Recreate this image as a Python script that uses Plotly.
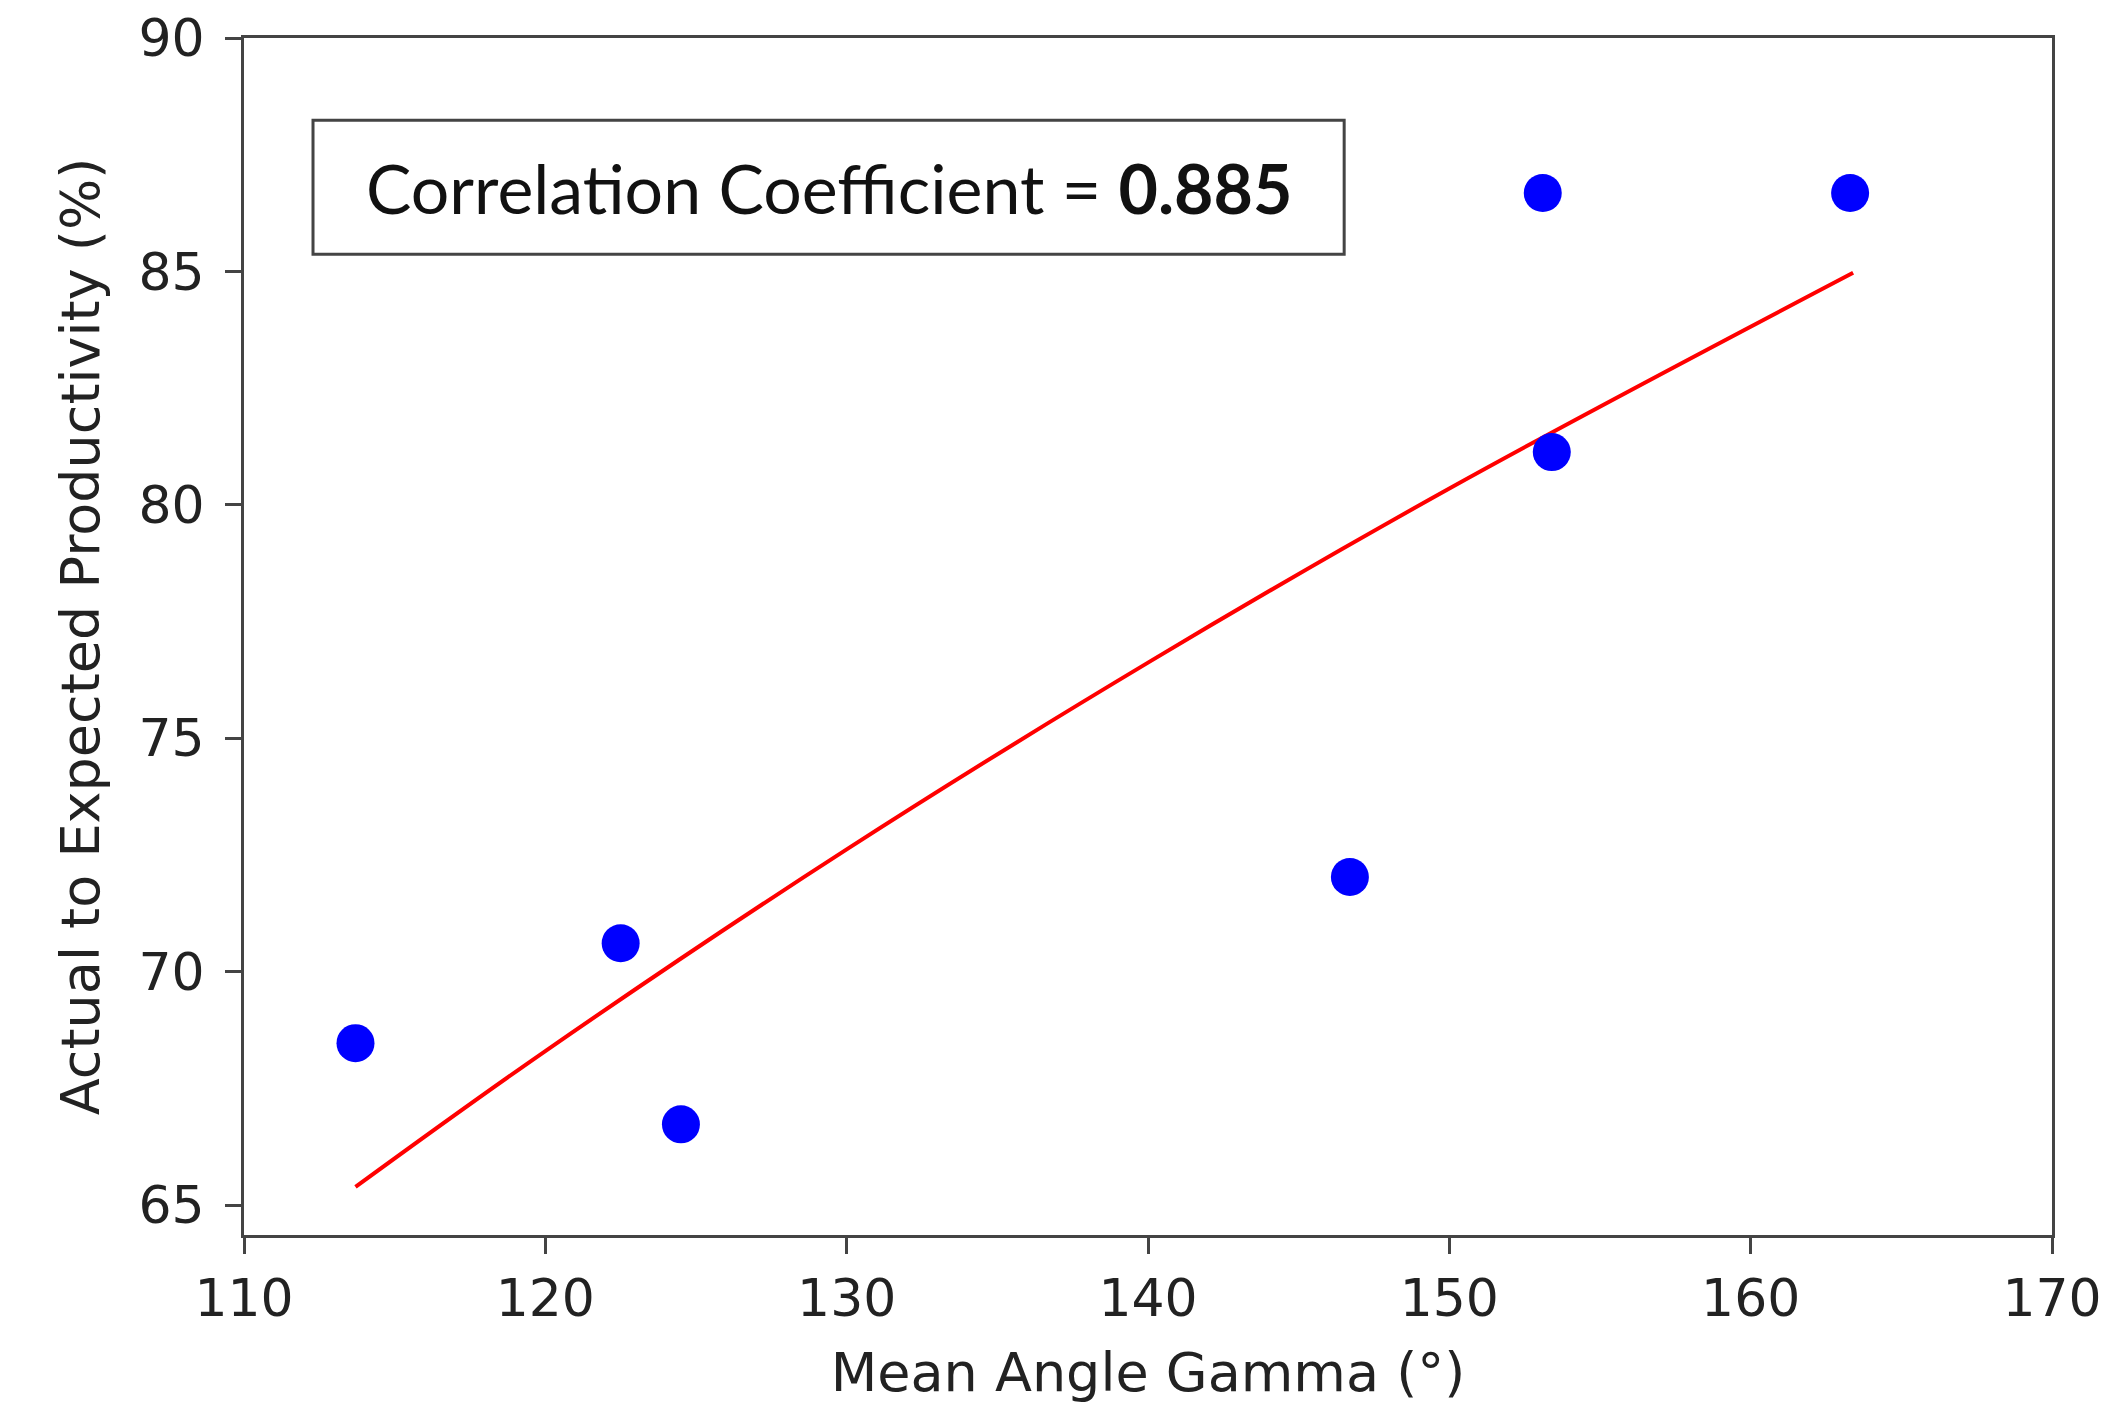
import plotly.graph_objects as go

# Data
gamma = [113.7, 122.5, 124.5, 146.7, 153.1, 153.4, 163.3]
productivity = [68.47, 70.61, 66.73, 72.03, 86.68, 81.13, 86.68]

# Fitted trend curve
fit_x = [113.7, 120, 130, 140, 150, 163.4]
fit_y = [65.39, 68.30, 72.62, 76.62, 80.35, 84.97]

x_ticks = [110, 120, 130, 140, 150, 160, 170]
y_ticks = [65, 70, 75, 80, 85, 90]

corr_label = "Correlation Coefficient = <b>0.885</b>"

fig = go.Figure()
fig.add_trace(go.Scatter(x=fit_x, y=fit_y, mode="lines", line=dict(color="#ff0000", width=4, shape="spline"),
                         showlegend=False, hoverinfo="skip"))
fig.add_trace(go.Scatter(x=gamma, y=productivity, mode="markers",
                         marker=dict(color="#0000ff", size=38), showlegend=False))

axis_common = dict(showline=True, linecolor="#444444", linewidth=3, mirror=True,
                   ticks="outside", ticklen=16, tickwidth=2.5, tickcolor="#444444",
                   showgrid=False, zeroline=False, automargin=False,
                   tickfont=dict(family="DejaVu Sans", size=52, color="#222222"),
                   title_font=dict(family="DejaVu Sans", size=54, color="#222222"))

fig.update_xaxes(range=[110, 170], tickvals=x_ticks, title_text="Mean Angle Gamma (°)",
                 title_standoff=26, **axis_common)
fig.update_yaxes(range=[64.36, 90], tickvals=y_ticks, title_text="Actual to Expected Productivity (%)",
                 title_standoff=22, ticklabelstandoff=10, **axis_common)

fig.add_shape(type="rect", xref="x", yref="y", x0=112.29, x1=146.51, y0=85.37, y1=88.24,
              line=dict(color="#444444", width=3), fillcolor="rgba(0,0,0,0)")
fig.add_annotation(x=(112.29 + 146.51) / 2, y=(85.37 + 88.24) / 2, xref="x", yref="y",
                   text=corr_label, showarrow=False,
                   font=dict(family="Lato", size=68, color="#111111"))

fig.update_layout(width=2122, height=1418, plot_bgcolor="white", paper_bgcolor="white",
                  margin=dict(l=236, r=78, t=30, b=191))

fig.write_html("out.html")
